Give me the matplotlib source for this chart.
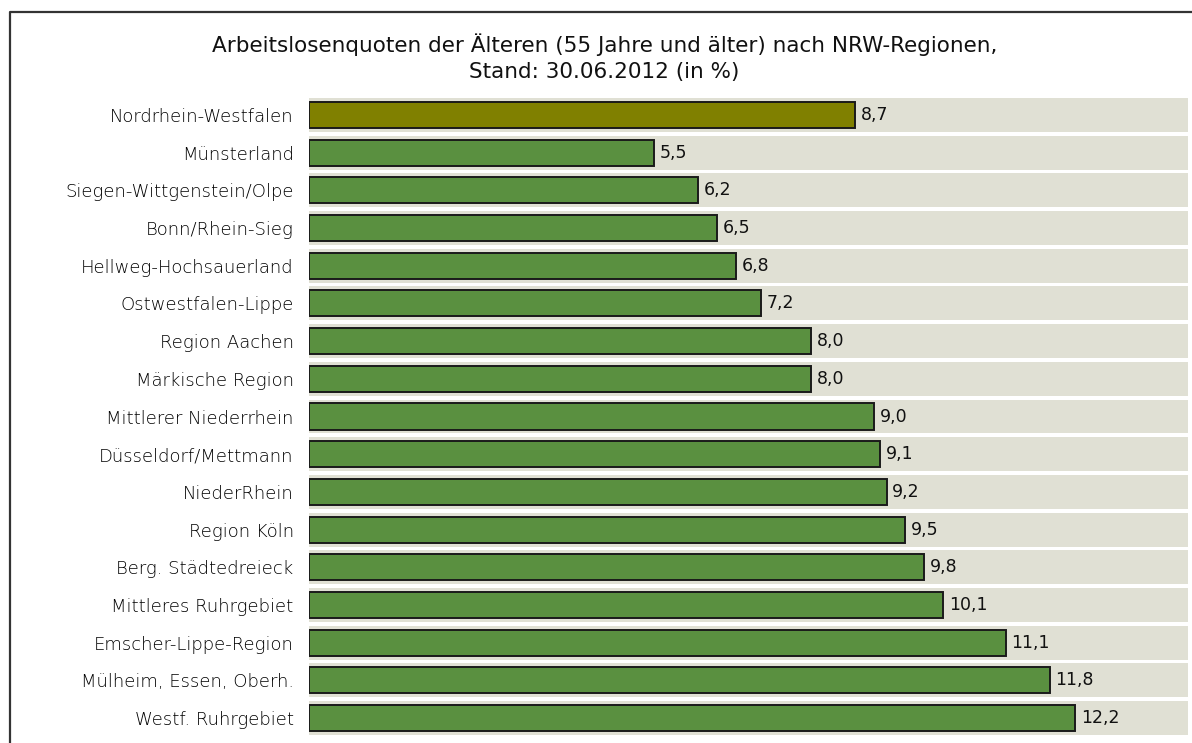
import matplotlib.pyplot as plt
from matplotlib.lines import Line2D

# Arbeitslosenquoten der Älteren nach NRW-Regionen, 30.06.2012
regions = [
    "Nordrhein-Westfalen", "Münsterland", "Siegen-Wittgenstein/Olpe",
    "Bonn/Rhein-Sieg", "Hellweg-Hochsauerland", "Ostwestfalen-Lippe",
    "Region Aachen", "Märkische Region", "Mittlerer Niederrhein",
    "Düsseldorf/Mettmann", "NiederRhein", "Region Köln",
    "Berg. Städtedreieck", "Mittleres Ruhrgebiet", "Emscher-Lippe-Region",
    "Mülheim, Essen, Oberh.", "Westf. Ruhrgebiet",
]
rates = [8.7, 5.5, 6.2, 6.5, 6.8, 7.2, 8.0, 8.0, 9.0, 9.1, 9.2, 9.5, 9.8,
         10.1, 11.1, 11.8, 12.2]
x_max = 14

plt.rcParams['font.family'] = ['DejaVu Sans']

W, H = 1192, 743
fig = plt.figure(figsize=(W / 100, H / 100), dpi=100)
fig.patch.set_facecolor('white')

ax = fig.add_axes([309 / W, 1 - 737 / H, 879 / W, (737 - 96) / H])
ax.set_facecolor('white')

n = len(regions)
ypos = list(range(n))

# background bands
ax.barh(ypos, [x_max] * n, height=0.9, color='#e0e0d4', edgecolor='none', zorder=1)

colors = ['#808000'] + ['#5a9040'] * (n - 1)
ax.barh(ypos, rates, height=0.69, color=colors, edgecolor='#1a1a1a',
        linewidth=1.4, zorder=2)

for y, v in zip(ypos, rates):
    ax.text(v + 0.09, y, f"{v:.1f}".replace('.', ','), va='center', ha='left',
            fontsize=12.5, color='#111111', zorder=3)

ax.set_xlim(0, x_max)
ax.set_ylim(n - 0.5, -0.5)
ax.set_yticks(ypos)
ax.set_yticklabels(regions, fontsize=13, color='#000000', fontweight='light')
ax.tick_params(axis='y', length=0, pad=11)
ax.set_xticks([])
for s in ax.spines.values():
    s.set_visible(False)

fig.text(605 / W, 1 - 45 / H, "Arbeitslosenquoten der Älteren (55 Jahre und älter) nach NRW-Regionen,",
         ha='center', va='center', fontsize=15.5, color='#111111')
fig.text(604 / W, 1 - 72 / H, "Stand: 30.06.2012 (in %)",
         ha='center', va='center', fontsize=15.5, color='#111111')

# frame of the figure box (open to the right and bottom)
fig.add_artist(Line2D([10 / W, 10 / W, 1.0], [0.0, 1 - 12 / H, 1 - 12 / H],
                      transform=fig.transFigure, color='#333333', linewidth=1.6))

fig.savefig('out.png', dpi=100, facecolor='white')
